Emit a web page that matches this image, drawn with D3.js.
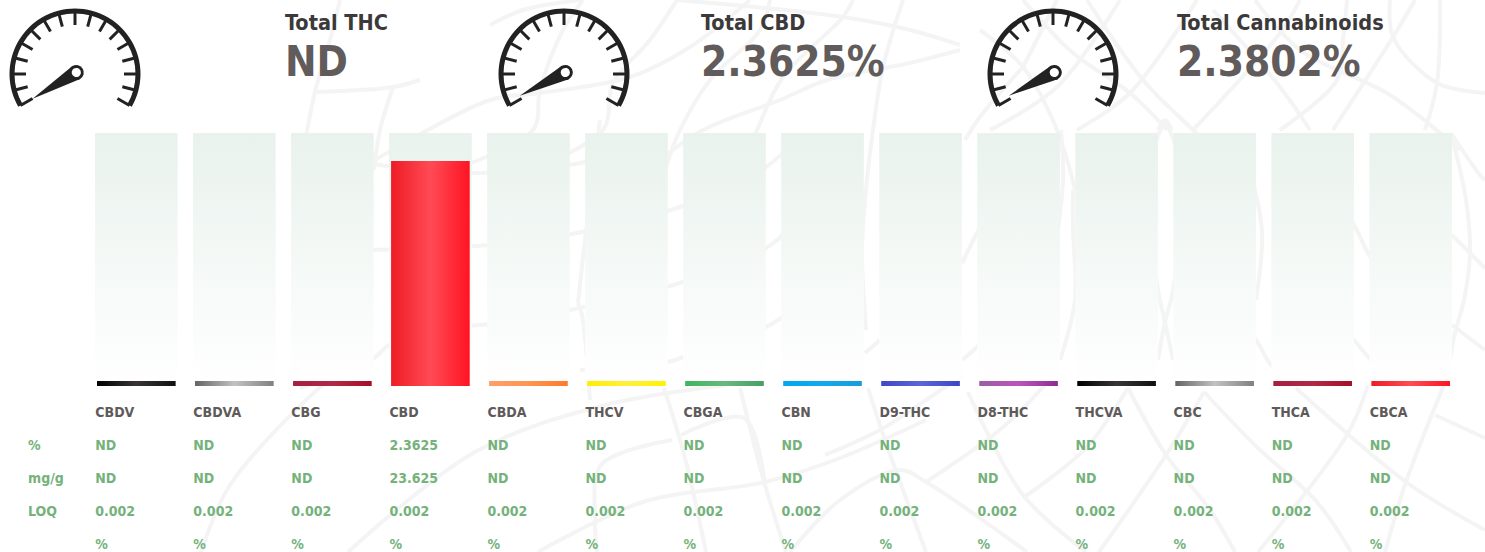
<!DOCTYPE html>
<html><head><meta charset="utf-8">
<style>html,body{margin:0;padding:0;background:#fff;overflow:hidden}svg{display:block}
text{font-family:"DejaVu Sans",sans-serif;font-weight:700;font-stretch:condensed}</style>
<script src="https://cdn.jsdelivr.net/npm/d3@7"></script></head><body>
<script>
const cannabinoids = ["CBDV","CBDVA","CBG","CBD","CBDA","THCV","CBGA","CBN","D9-THC","D8-THC","THCVA","CBC","THCA","CBCA"];
const percentValues = [null,null,null,2.3625,null,null,null,null,null,null,null,null,null,null];
const mgPerGValues = [null,null,null,23.625,null,null,null,null,null,null,null,null,null,null];
const loqValues = [0.002,0.002,0.002,0.002,0.002,0.002,0.002,0.002,0.002,0.002,0.002,0.002,0.002,0.002];
const barColors = [
 ["#000000","#3a3535","#101010"],["#646464","#c2c2c2","#808080"],["#a2213f","#b02a46","#a90d26"],
 ["#ee1c25","#ff4a55","#ff1423"],["#ff9f68","#ff9550","#ff7a2b"],["#ffed00","#fff03c","#fff200"],
 ["#3cb65e","#68b87f","#46a062"],["#00a8ee","#10aaee","#1a9cd8"],["#3f47c8","#5b66d6","#3c46c6"],
 ["#9b5ea2","#bb55bd","#8c2d91"],["#000000","#3a3535","#101010"],["#646464","#c2c2c2","#808080"],
 ["#a2213f","#b02a46","#a90d26"],["#ee1c25","#ff4a55","#ff1423"]];
const gaugeTitles = ["Total THC","Total CBD","Total Cannabinoids"];
const gaugeValues = [null,2.3625,2.3802];
const gaugeCentres = [75,564,1053];
const gaugeTextX = [285,701,1177];
const rowNames = ["%","mg/g","LOQ"];
const backdropCurves = [
 // left / centre, top band
 [[340,0],[330,40],[315,92],[300,170]],
 [[315,92],[393,87],[420,80]],[[393,87],[380,130],[374,170]],
 [[490,25],[523,10],[580,0]],
 [[370,163],[490,100],[540,93],[630,77],[690,47],[750,0]],
 [[452,170],[533,130],[540,90],[563,30],[583,0]],
 [[530,170],[603,130],[613,83],[650,40],[677,0]],
 [[665,170],[680,130],[710,80],[760,30],[770,0]],
 [[740,170],[757,130],[783,77],[843,17],[853,0]],
 [[903,0],[883,67],[873,130],[865,200],[862,250],[866,330]],
 [[677,0],[843,17],[910,30],[960,45]],
 [[960,50],[910,63],[827,80],[780,100],[703,130],[660,160]],
 // gaps between the tracks
 [[370,163],[400,168],[480,173],[585,162],[620,150]],
 [[370,250],[490,245],[582,232],[683,206],[766,167],[800,135]],
 [[430,328],[500,323],[570,310],[683,282],[766,248],[790,228]],
 [[300,388],[374,358],[389,345],[440,330]],
 [[580,370],[668,362],[683,357],[766,327],[781,318],[820,295]],
 [[600,120],[585,240],[578,303]],[[578,303],[582,315],[590,400]],
 [[865,353],[880,340],[900,320]],
 [[962,263],[977,233],[1000,190]],[[962,360],[977,347],[1000,320]],
 [[1061,130],[1063,180],[1058,230]],[[1073,190],[1073,230],[1075,300],[1060,360]],
 [[1158,130],[1165,120],[1172,130]],[[1165,120],[1148,170],[1158,290],[1165,322],[1173,360]],
 [[1165,120],[1182,170],[1173,290],[1165,322],[1158,360]],
 [[1250,170],[1262,232],[1256,300]],[[1240,320],[1256,340],[1271,365],[1290,385]],
 [[1340,205],[1354,225],[1369,255],[1385,280]],[[1340,325],[1354,340],[1369,358],[1385,375]],
 [[1451,133],[1466,200],[1470,253],[1464,300],[1455,333],[1450,360]],
 [[1452,235],[1470,253],[1485,268]],[[1452,325],[1485,350]],
 // right, top band lattice
 [[980,30],[1023,67],[1057,130],[1075,190]],
 [[1023,0],[1073,53],[1130,93],[1167,130]],
 [[1087,0],[1143,80],[1193,130],[1240,175]],
 [[1213,10],[1280,87],[1310,130]],
 [[1255,0],[1300,50],[1390,95],[1460,150]],
 [[1390,0],[1393,37],[1437,83],[1485,93]],
 [[1440,0],[1437,83],[1425,130]],
 [[1023,67],[980,117],[965,140]],
 [[1057,0],[1023,67]],
 [[990,130],[1057,87],[1120,0]],
 [[1077,130],[1130,93],[1197,0]],
 [[1193,130],[1280,33],[1300,0]],
 [[1280,130],[1337,80],[1343,40],[1347,0]],
 [[1333,130],[1393,37],[1415,0]],
 [[1451,133],[1480,175],[1485,180]],
 // bottom band
 [[201,552],[230,485],[319,388],[340,372]],
 [[348,552],[475,452],[605,405],[727,385]],
 [[538,552],[643,502],[765,482],[840,458],[926,420]],
 [[664,388],[685,458],[706,552]],
 [[740,388],[765,485],[786,552]],
 [[672,440],[601,465],[595,518],[597,552]],
 [[681,435],[744,418],[765,485]],
 [[790,552],[840,500],[900,470],[926,482],[1027,552]],
 [[825,455],[880,430],[926,400],[962,375]],
 [[868,388],[885,440],[926,552]],
 [[968,392],[1023,495],[1086,552]],
 [[926,482],[1002,428],[1045,385]],
 [[1023,498],[1086,448],[1128,388]],
 [[1099,552],[1166,455],[1204,392]],
 [[1128,388],[1166,455],[1210,510],[1235,552]],
 [[1204,392],[1258,448],[1317,502],[1351,552]],
 [[1258,552],[1347,435],[1368,385]],
 [[1296,388],[1406,482],[1485,530]],
 [[1444,385],[1406,482],[1385,552]],
 [[1435,415],[1485,438]]
];

const width = 1485, height = 552, baseY = 386, topY = 133;
const minBarHeight = 5, barInset = 2;
const svg = d3.select("body").append("svg").attr("width",width).attr("height",height);
const defs = svg.append("defs");

const curve = d3.line().curve(d3.curveCatmullRom.alpha(0.5));
svg.append("g").selectAll("path").data(backdropCurves).join("path")
  .attr("d",curve).attr("fill","none").attr("stroke","#f4f4f4").attr("stroke-width",4);

const x = d3.scaleBand().domain(cannabinoids).range([95,1452]).paddingInner(0.157);
const y = d3.scaleLinear().domain([0,2.6565]).range([baseY,topY]);

const trackGrad = defs.append("linearGradient").attr("id","track").attr("x1",0).attr("x2",0).attr("y1",0).attr("y2",1);
trackGrad.append("stop").attr("offset",0).attr("stop-color","#e9f2ed");
trackGrad.append("stop").attr("offset",1).attr("stop-color","#ffffff");
cannabinoids.forEach((c,i)=>{
  const g = defs.append("linearGradient").attr("id","bar"+i);
  barColors[i].forEach((col,k)=>g.append("stop").attr("offset",k/2).attr("stop-color",col));
});

svg.append("g").selectAll("rect").data(cannabinoids).join("rect")
  .attr("x",d=>x(d)).attr("y",topY).attr("width",x.bandwidth()).attr("height",baseY-topY).attr("fill","url(#track)");

svg.append("g").selectAll("rect").data(cannabinoids).join("rect")
  .attr("x",d=>x(d)+barInset).attr("width",x.bandwidth()-2*barInset)
  .attr("y",(d,i)=>Math.min(y(percentValues[i]||0),baseY-minBarHeight))
  .attr("height",(d,i)=>Math.max(baseY-y(percentValues[i]||0),minBarHeight))
  .attr("fill",(d,i)=>`url(#bar${i})`);

const fmt = v => v==null ? "ND" : String(v);
const headFont = 14, dark = "#5f5a5a", green = "#75b27b";
const rows = [
  {vals:cannabinoids, y:417, fill:dark},
  {vals:percentValues.map(fmt), y:450, fill:green},
  {vals:mgPerGValues.map(fmt), y:483, fill:green},
  {vals:loqValues.map(fmt), y:516, fill:green},
  {vals:cannabinoids.map(()=>"%"), y:549, fill:green}
];
rows.forEach(r=>{
  svg.append("g").selectAll("text").data(r.vals).join("text")
    .attr("x",(d,i)=>x(cannabinoids[i])+0.3).attr("y",r.y)
    .attr("font-size",headFont).attr("fill",r.fill).text(d=>d);
});
svg.append("g").selectAll("text").data(rowNames).join("text")
  .attr("x",28).attr("y",(d,i)=>rows[i+1].y).attr("font-size",headFont).attr("fill",green).text(d=>d);

// gauges
const R = 63, tickAngles = d3.range(-120,121,15);
const needleAngle = d3.scaleLinear().domain([0,100]).range([-121,48]);
gaugeCentres.forEach((cx,i)=>{
  const g = svg.append("g").attr("transform",`translate(${cx},74)`);
  g.append("path").attr("d",d3.arc()({innerRadius:R-2.5,outerRadius:R+2.5,startAngle:-120*Math.PI/180,endAngle:120*Math.PI/180})).attr("fill","#222");
  g.selectAll("line").data(tickAngles).join("line")
    .attr("x1",0).attr("x2",0).attr("y1",-R).attr("y2",-(R-14))
    .attr("transform",d=>`rotate(${d})`).attr("stroke","#222").attr("stroke-width",3);
  const n = g.append("g").attr("transform",`translate(1.3,-1.5) rotate(${needleAngle(gaugeValues[i]||0)})`);
  const needlePath = d3.path();
  needlePath.moveTo(-7.5,0); needlePath.lineTo(0,-51); needlePath.lineTo(7.5,0); needlePath.closePath();
  n.append("path").attr("d",needlePath.toString()).attr("fill","#222");
  n.append("circle").attr("r",7.5).attr("fill","#222");
  n.append("circle").attr("r",4.6).attr("fill","#fff");
  svg.append("text").attr("x",gaugeTextX[i]).attr("y",30).attr("font-size",21.5).attr("fill","#3c393a").text(gaugeTitles[i]);
  svg.append("text").attr("x",gaugeTextX[i]).attr("y",76).attr("font-size",42).attr("fill","#615b5b")
    .text(gaugeValues[i]==null?"ND":gaugeValues[i]+"%");
});
</script></body></html>
